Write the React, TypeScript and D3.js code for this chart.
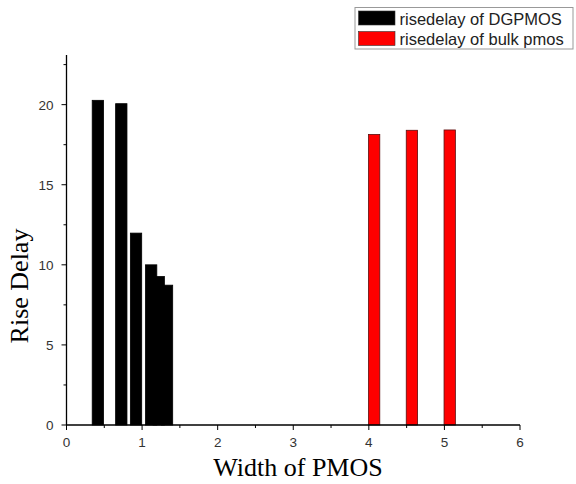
import { useEffect, useRef } from 'react';
import * as d3 from 'd3';

const dgWidths = [0.415, 0.725, 0.92, 1.12, 1.22, 1.33];
const dgDelay = [20.27, 20.06, 11.98, 10.0, 9.27, 8.73];
const bulkWidths = [4.07, 4.57, 5.07];
const bulkDelay = [18.14, 18.4, 18.42];
const xTicks = [0, 1, 2, 3, 4, 5, 6];
const yTicks = [0, 5, 10, 15, 20];
const legendLabels = ['risedelay of DGPMOS', 'risedelay of bulk pmos'];
const barWidth = 0.15;

const W = 576;
const H = 484;

const Chart = () => {
  const ref = useRef<SVGSVGElement>(null);

  useEffect(() => {
    const svg = d3.select(ref.current);
    svg.selectAll('*').remove();

    const x = d3.scaleLinear().domain([0, 6]).range([66.5, 520]);
    const y = d3.scaleLinear().domain([0, 23.1]).range([425, 55]);

    // bars
    const drawBars = (xs: number[], ys: number[], fill: string, stroke: string) => {
      svg
        .append('g')
        .selectAll('rect')
        .data(xs)
        .join('rect')
        .attr('x', (d) => x(d - barWidth / 2))
        .attr('y', (d, i) => y(ys[i]))
        .attr('width', x(barWidth) - x(0))
        .attr('height', (d, i) => y(0) - y(ys[i]))
        .attr('fill', fill)
        .attr('stroke', stroke)
        .attr('stroke-width', 0.8);
    };
    drawBars(dgWidths, dgDelay, '#000', '#000');
    drawBars(bulkWidths, bulkDelay, '#ff0000', '#5a1010');

    const tickFont = 'Arial, "Liberation Sans", sans-serif';

    // x axis
    const xAxis = svg.append('g').attr('transform', `translate(0,${y(0)})`);
    xAxis
      .append('line')
      .attr('x1', x(0))
      .attr('x2', x(6))
      .attr('stroke', '#000')
      .attr('stroke-width', 1.3);
    xAxis
      .selectAll('.minor')
      .data(d3.range(0.5, 6, 1))
      .join('line')
      .attr('x1', (d) => x(d))
      .attr('x2', (d) => x(d))
      .attr('y2', 3)
      .attr('stroke', '#000');
    xAxis
      .selectAll('.major')
      .data(xTicks)
      .join('line')
      .attr('x1', (d) => x(d))
      .attr('x2', (d) => x(d))
      .attr('y2', 5)
      .attr('stroke', '#000');
    xAxis
      .selectAll('text')
      .data(xTicks)
      .join('text')
      .attr('x', (d) => x(d))
      .attr('y', 21.5)
      .attr('text-anchor', 'middle')
      .attr('font-family', tickFont)
      .attr('font-size', 13.5)
      .attr('fill', '#333')
      .text((d) => d);

    // y axis
    const yAxis = svg.append('g').attr('transform', `translate(${x(0)},0)`);
    yAxis
      .append('line')
      .attr('y1', y(0))
      .attr('y2', y(23.1))
      .attr('stroke', '#000')
      .attr('stroke-width', 1.3);
    yAxis
      .selectAll('.minor')
      .data(d3.range(2.5, 23, 5))
      .join('line')
      .attr('y1', (d) => y(d))
      .attr('y2', (d) => y(d))
      .attr('x2', -3)
      .attr('stroke', '#000');
    yAxis
      .selectAll('.major')
      .data(yTicks)
      .join('line')
      .attr('y1', (d) => y(d))
      .attr('y2', (d) => y(d))
      .attr('x2', -5)
      .attr('stroke', '#000');
    yAxis
      .selectAll('text')
      .data(yTicks)
      .join('text')
      .attr('x', -13)
      .attr('y', (d) => y(d) + 5)
      .attr('text-anchor', 'end')
      .attr('font-family', tickFont)
      .attr('font-size', 13.5)
      .attr('fill', '#333')
      .text((d) => d);

    // axis titles
    const titleFont = '"Liberation Serif", "Times New Roman", serif';
    svg
      .append('text')
      .attr('x', 298)
      .attr('y', 476)
      .attr('text-anchor', 'middle')
      .attr('font-family', titleFont)
      .attr('font-size', 26)
      .text('Width of PMOS');
    svg
      .append('text')
      .attr('transform', `translate(28,286) rotate(-90)`)
      .attr('text-anchor', 'middle')
      .attr('font-family', titleFont)
      .attr('font-size', 26)
      .text('Rise Delay');

    // legend
    const legend = svg.append('g');
    legend
      .append('rect')
      .attr('x', 355)
      .attr('y', 7.5)
      .attr('width', 218)
      .attr('height', 41.5)
      .attr('fill', '#fff')
      .attr('stroke', '#999')
      .attr('stroke-width', 1);
    const colors = ['#000', '#ff0000'];
    legendLabels.forEach((label, i) => {
      legend
        .append('rect')
        .attr('x', 358.5)
        .attr('y', 11 + i * 20.5)
        .attr('width', 36.5)
        .attr('height', 14)
        .attr('fill', colors[i])
        .attr('stroke', '#333')
        .attr('stroke-width', 0.6);
      legend
        .append('text')
        .attr('x', 399.5)
        .attr('y', 24.5 + i * 20)
        .attr('font-family', tickFont)
        .attr('font-size', 16.5)
        .attr('fill', '#222')
        .text(label);
    });
  }, [ref]);

  return (
    <svg
      ref={ref}
      width={W}
      height={H}
      style={{ position: 'absolute', left: 0, top: 0, background: '#fff' }}
    />
  );
};

export default function App() {
  return (
    <div>
      <Chart />
    </div>
  );
}
